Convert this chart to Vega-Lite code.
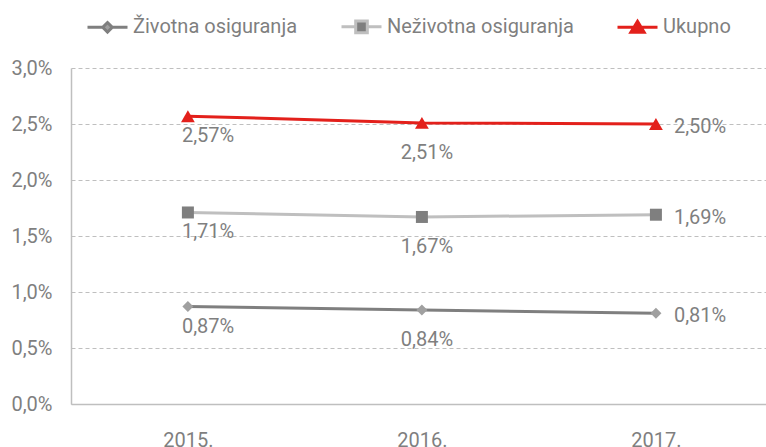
{
  "$schema": "https://vega.github.io/schema/vega-lite/v6.json",
  "width": 695,
  "height": 336,
  "autosize": {"type": "none"},
  "padding": {"left": 71, "top": 68, "right": 0, "bottom": 43},
  "background": "white",
  "config": {
    "locale": {"number": {"decimal": ",", "thousands": ".", "grouping": [3], "currency": ["", ""]}},
    "view": {"stroke": null},
    "font": "Roboto"
  },
  "data": {
    "values": [
      {"year": "2015.", "series": "Životna osiguranja", "value": 0.0087},
      {"year": "2016.", "series": "Životna osiguranja", "value": 0.0084},
      {"year": "2017.", "series": "Životna osiguranja", "value": 0.0081},
      {"year": "2015.", "series": "Neživotna osiguranja", "value": 0.0171},
      {"year": "2016.", "series": "Neživotna osiguranja", "value": 0.0167},
      {"year": "2017.", "series": "Neživotna osiguranja", "value": 0.0169},
      {"year": "2015.", "series": "Ukupno", "value": 0.0257},
      {"year": "2016.", "series": "Ukupno", "value": 0.0251},
      {"year": "2017.", "series": "Ukupno", "value": 0.0250}
    ]
  },
  "encoding": {
    "x": {
      "field": "year", "type": "ordinal", "sort": null,
      "scale": {"type": "point", "padding": 0.485, "align": 0.515},
      "axis": {"title": null, "labelAngle": 0, "ticks": false, "grid": false, "domainColor": "#bfbfbf", "domainWidth": 1.5, "labelPadding": 26, "labelFontSize": 20, "labelColor": "#7f7f7f", "labelFont": "Roboto"}
    },
    "y": {
      "field": "value", "type": "quantitative",
      "scale": {"domain": [0, 0.03], "nice": false},
      "axis": {"title": null, "values": [0, 0.005, 0.01, 0.015, 0.02, 0.025, 0.03], "format": ".1%", "ticks": false, "domainColor": "#bfbfbf", "domainWidth": 1.5, "gridColor": "#bfbfbf", "gridDash": [4, 3], "gridWidth": 1, "labelPadding": 19, "labelFontSize": 20, "labelColor": "#7f7f7f", "labelFont": "Roboto"}
    }
  },
  "layer": [
    {
      "transform": [{"filter": "datum.series === 'Životna osiguranja'"}],
      "mark": {"type": "line", "strokeWidth": 3, "stroke": "#7f7f7f"},
      "encoding": {}
    },
    {
      "transform": [{"filter": "datum.series === 'Neživotna osiguranja'"}],
      "mark": {"type": "line", "strokeWidth": 3, "stroke": "#bfbfbf"},
      "encoding": {}
    },
    {
      "transform": [{"filter": "datum.series === 'Ukupno'"}],
      "mark": {"type": "line", "strokeWidth": 3, "stroke": "#e3201b"},
      "encoding": {}
    },
    {
      "transform": [{"filter": "datum.series === 'Životna osiguranja'"}],
      "mark": {"type": "point", "shape": "diamond", "filled": true, "opacity": 1, "strokeWidth": 0, "size": 121, "fill": "#a0a0a0"}
    },
    {
      "transform": [{"filter": "datum.series === 'Neživotna osiguranja'"}],
      "mark": {"type": "point", "shape": "square", "filled": true, "opacity": 1, "strokeWidth": 0, "size": 144, "fill": "#7f7f7f"}
    },
    {
      "transform": [{"filter": "datum.series === 'Ukupno'"}],
      "mark": {"type": "point", "shape": "triangle-up", "filled": true, "opacity": 1, "strokeWidth": 0, "size": 190, "fill": "#e3201b"}
    },
    {
      "transform": [{"filter": "datum.value < 0"}],
      "mark": {"type": "point", "filled": true, "opacity": 1, "strokeWidth": 3},
      "encoding": {
        "shape": {
          "field": "series", "type": "nominal",
          "scale": {
            "domain": ["Životna osiguranja", "Neživotna osiguranja", "Ukupno"],
            "range": ["M-1,0H-0.24M0.24,0H1M0,-0.24L0.24,0L0,0.24L-0.24,0Z", "M-1,0H-0.29M0.29,0H1M-0.29,-0.29H0.29V0.29H-0.29Z", "M-1,0H1M0,-0.3L0.33,0.24H-0.33Z"]
          },
          "legend": {
            "title": null, "orient": "none", "legendX": 15, "legendY": -63, "direction": "horizontal",
            "padding": 0, "symbolSize": 1600, "labelOffset": 4, "columnPadding": 37, "labelLimit": 0,
            "labelFontSize": 20, "labelColor": "#7f7f7f", "labelFont": "Roboto", "labelBaseline": "middle",
            "symbolStrokeWidth": 3, "symbolOpacity": 1,
            "encoding": {
              "symbols": {
                "fill": {"value": {"expr": "datum.value === 'Ukupno' ? '#e3201b' : datum.value === 'Neživotna osiguranja' ? '#7f7f7f' : '#a0a0a0'"}},
                "stroke": {"value": {"expr": "datum.value === 'Ukupno' ? '#e3201b' : datum.value === 'Neživotna osiguranja' ? '#bfbfbf' : '#7f7f7f'"}},
                "strokeWidth": {"value": 3},
                "size": {"value": 1600},
                "opacity": {"value": 1},
                "fillOpacity": {"value": 1},
                "strokeOpacity": {"value": 1}
              }
            }
          }
        }
      }
    },
    {
      "transform": [{"filter": "datum.year === '2015.'"}],
      "mark": {"type": "text", "align": "left", "baseline": "alphabetic", "dx": -6, "dy": 26, "fontSize": 20, "color": "#7f7f7f", "font": "Roboto"},
      "encoding": {"text": {"field": "value", "type": "quantitative", "format": ".2%"}}
    },
    {
      "transform": [{"filter": "datum.year === '2016.'"}],
      "mark": {"type": "text", "align": "center", "baseline": "alphabetic", "dx": 5, "dy": 36, "fontSize": 20, "color": "#7f7f7f", "font": "Roboto"},
      "encoding": {"text": {"field": "value", "type": "quantitative", "format": ".2%"}}
    },
    {
      "transform": [{"filter": "datum.year === '2017.'"}],
      "mark": {"type": "text", "align": "left", "baseline": "middle", "dx": 18, "dy": 3, "fontSize": 20, "color": "#7f7f7f", "font": "Roboto"},
      "encoding": {"text": {"field": "value", "type": "quantitative", "format": ".2%"}}
    }
  ]
}
